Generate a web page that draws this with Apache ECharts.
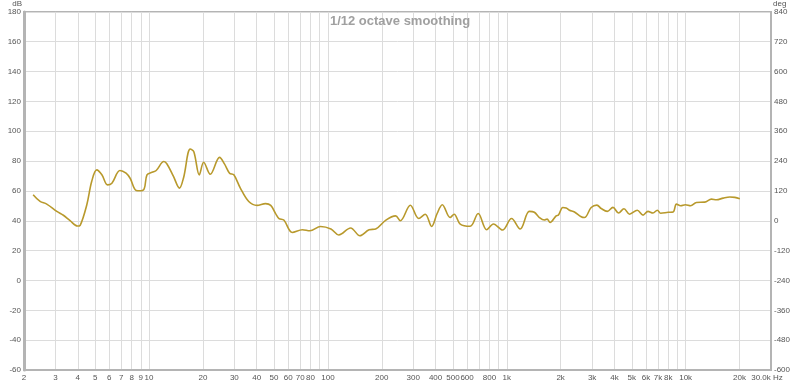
<!DOCTYPE html>
<html>
<head>
<meta charset="utf-8">
<script src="https://cdn.jsdelivr.net/npm/echarts@6/dist/echarts.min.js"></script>
<style>
html,body{margin:0;padding:0;background:#fff;}
#chart{width:800px;height:384px;}
</style>
</head>
<body>
<div id="chart"></div>
<script>
// ---- data ----
var titleText = '1/12 octave smoothing';
var freqHz = [2.25,2.46,2.68,3.05,3.32,3.62,3.98,4.12,4.49,4.78,5.1,5.45,5.86,6.2,6.88,7.44,7.84,8.48,8.94,9.4,9.74,10.4,10.97,12.1,12.6,13.7,14.8,15.6,17.0,17.8,19.1,20.2,22.0,24.8,26.4,28.2,29.8,32.4,36.1,40.2,44.8,47.9,51,53.3,56.7,63.2,72,79.3,91,104,115,134,151,170,185,211,239,254,289,322,350,380,408,436,482,508,549,624,692,772,842,946,1063,1188,1336,1426,1521,1622,1680,1746,1888,1945,2057,2148,2240,2390,2606,2720,2964,3190,3372,3646,3922,4216,4520,4858,5366,5778,6156,6568,6946,7246,7980,8510,8880,9384,9964,10666,11482,12786,13940,14860,16220,17662,18836,20092];
var splDb = [57.5,53,51.2,46.3,43.7,40.1,36.5,37,50.8,66.3,74.1,70.8,64.1,65.2,73.7,71.9,68.5,60.3,60.1,61.5,70.8,72.5,73.7,79.7,78.1,69.7,61.9,68.9,88.1,86.3,70.8,79.2,71.2,82.5,78.1,71.9,70.8,61.9,52.9,50.3,51.5,50.3,44.8,41.5,40.5,32.2,34,33.3,36.2,34.5,30.5,35.2,30,34,34.5,40.5,43.3,40,50.4,41.5,44.4,36.2,44.9,50.8,42.2,44.4,37.8,36.3,44.9,34,37.8,33.8,41.5,34.5,46.3,45.7,42.2,40.5,41.1,38.9,43.3,43.8,48.9,48.5,47.1,45.9,42.7,42.2,48.9,50.5,48.2,46.3,49,45.2,48.1,44.4,47.1,43.8,46.3,45.2,47.1,45.1,45.7,45.9,51.2,50.1,50.8,50.1,52.3,52.5,54.5,54.1,55.2,55.9,55.7,54.8];
var gridFreqs = [2,3,4,5,6,7,8,9,10,20,30,40,50,60,70,80,90,100,200,300,400,500,600,700,800,900,1000,2000,3000,4000,5000,6000,7000,8000,9000,10000,20000,30000];
var labelFreqs = [2,3,4,5,6,7,8,9,10,20,30,40,50,60,70,80,100,200,300,400,500,600,800,1000,2000,3000,4000,5000,6000,7000,8000,10000,20000,30000];
var labelTexts = ['2','3','4','5','6','7','8','9','10','20','30','40','50','60','70','80','100','200','300','400','500','600','800','1k','2k','3k','4k','5k','6k','7k','8k','10k','20k','30.0k Hz'];
var freqMin = 2, freqMax = 30000;
var dbMin = -60, dbMax = 180, dbStep = 20;
var degMin = -600, degMax = 840, degStep = 120;

// ---- build chart ----
var lg = function (f) { return Math.log10(f); };
var labelMap = {};
labelFreqs.forEach(function (f, i) { labelMap[Math.round(f)] = labelTexts[i]; });
var seriesData = freqHz.map(function (f, i) { return [lg(f), splDb[i]]; });

var axisFont = 'Liberation Sans Narrow, Liberation Sans, sans-serif';
var labelColor = '#555';
var gridColor = '#dcdcdc';
var frameColor = '#b4b4b4';

var chart = echarts.init(document.getElementById('chart'), null, {renderer: 'canvas'});
chart.setOption({
  animation: false,
  backgroundColor: '#ffffff',
  title: {
    text: titleText,
    left: 'center',
    top: 10,
    textStyle: {fontFamily: 'Liberation Sans, sans-serif', fontWeight: 'bold', fontSize: 13, color: '#a0a0a0'}
  },
  grid: {left: 24, right: 29, top: 9, bottom: 14, show: true, borderColor: frameColor, borderWidth: 2, backgroundColor: '#fff'},
  xAxis: {
    type: 'value',
    min: lg(freqMin),
    max: lg(freqMax),
    axisLine: {show: true, onZero: false, lineStyle: {color: frameColor, width: 2}},
    axisTick: {show: false, customValues: gridFreqs.map(lg)},
    splitLine: {show: true, lineStyle: {color: gridColor, width: 1}},
    axisLabel: {
      customValues: labelFreqs.map(lg),
      margin: 4,
      fontSize: 8,
      fontFamily: axisFont,
      color: labelColor,
      formatter: function (v) {
        var t = labelMap[Math.round(Math.pow(10, v))] || '';
        if (t.indexOf('Hz') >= 0) return '{e|' + t + '}';
        return t;
      },
      rich: {e: {fontSize: 8, fontFamily: axisFont, color: labelColor, padding: [0, 8, 0, 0]}}
    }
  },
  yAxis: [{
    type: 'value',
    min: dbMin, max: dbMax, interval: dbStep,
    name: 'dB',
    nameLocation: 'end',
    nameGap: 1,
    nameTextStyle: {fontSize: 8, fontFamily: axisFont, color: labelColor, align: 'right', padding: [0, 2, 0, 0]},
    axisLine: {show: true, lineStyle: {color: frameColor, width: 3}},
    axisTick: {show: false},
    splitLine: {show: true, lineStyle: {color: gridColor, width: 1}},
    axisLabel: {margin: 3, fontSize: 8, fontFamily: axisFont, color: labelColor}
  }, {
    type: 'value',
    position: 'right',
    min: degMin, max: degMax, interval: degStep,
    name: 'deg',
    nameLocation: 'end',
    nameGap: 1,
    nameTextStyle: {fontSize: 8, fontFamily: axisFont, color: labelColor, align: 'left', padding: [0, 0, 0, 2]},
    axisLine: {show: true, lineStyle: {color: frameColor, width: 2}},
    axisTick: {show: false},
    splitLine: {show: false},
    axisLabel: {margin: 3, fontSize: 8, fontFamily: axisFont, color: labelColor}
  }],
  series: [{
    type: 'line',
    yAxisIndex: 0,
    data: seriesData,
    smooth: 0.35,
    showSymbol: false,
    lineStyle: {color: '#b8992c', width: 1.6},
    z: 5
  }]
});
</script>
</body>
</html>
